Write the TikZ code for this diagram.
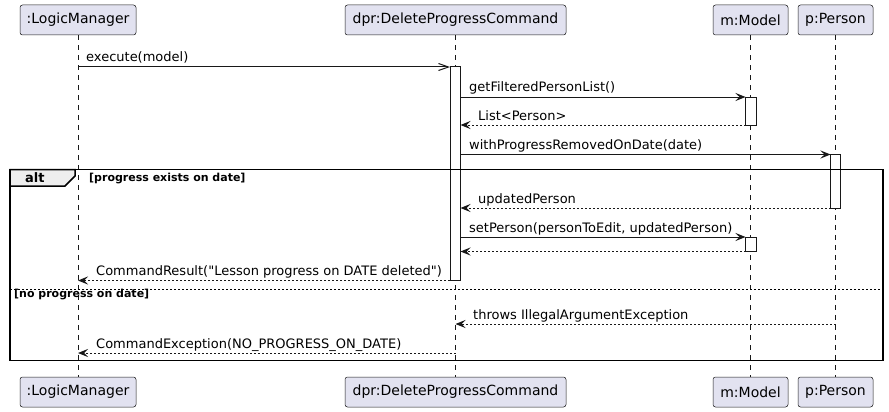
\documentclass[tikz,border=0pt]{standalone}
\usepackage{fontspec}
\setmainfont{DejaVu Sans}[Ligatures=TeXOff]
\usetikzlibrary{arrows.meta}
\definecolor{pbox}{HTML}{E2E2F0}
\definecolor{pline}{HTML}{181818}
\definecolor{tabfill}{HTML}{EEEEEE}
\tikzset{
  part/.style={draw=pline, fill=pbox, rounded corners=2.5pt, line width=0.5pt, minimum height=30pt, inner sep=0pt, font=\fontsize{14}{16}\selectfont},
  life/.style={draw=pline, line width=0.5pt, dash pattern=on 5pt off 5pt},
  act/.style={draw=pline, fill=white, line width=1pt},
  msg/.style={draw=pline, line width=1pt, -{Stealth[length=10pt,width=8pt,inset=4pt]}},
  ret/.style={msg, dash pattern=on 2pt off 2pt},
  async/.style={draw=pline, line width=1pt, -{Straight Barb[length=10pt,width=7pt]}},
  lbl/.style={anchor=base west, inner sep=0pt, font=\fontsize{13}{15}\selectfont},
  guard/.style={anchor=base west, inner sep=0pt, font=\fontsize{11}{13}\selectfont\bfseries},
  frame/.style={draw=black, line width=1.5pt},
}
\begin{document}
\begin{tikzpicture}[x=1pt,y=-1pt]
\useasboundingbox (0,0) rectangle (889,412);
% participants
\node[part, minimum width=116pt] (lm) at (78,20) {:LogicManager};
\node[part, minimum width=221pt] (dpr) at (455.5,20) {dpr:DeleteProgressCommand};
\node[part, minimum width=75pt] (m) at (750.5,20) {m:Model};
\node[part, minimum width=75pt] (p) at (835.5,20) {p:Person};
\node[part, minimum width=116pt] (lmb) at (78,392) {:LogicManager};
\node[part, minimum width=221pt] (dprb) at (455.5,392) {dpr:DeleteProgressCommand};
\node[part, minimum width=75pt] (mb) at (750.5,392) {m:Model};
\node[part, minimum width=75pt] (pb) at (835.5,392) {p:Person};
% lifelines
\draw[life] (lm.south) -- (lmb.north);
\draw[life] (dpr.south) -- (dprb.north);
\draw[life] (m.south) -- (mb.north);
\draw[life] (p.south) -- (pb.north);
% activations
\draw[act] (450,67) rectangle (460.5,280.5);
\draw[act] (745.5,97) rectangle (756,125);
\draw[act] (830.5,154.5) rectangle (840.5,208);
\draw[act] (745.5,237) rectangle (756,251.5);
% alt frame
\draw[frame] (10,169.5) rectangle (883,360.5);
\draw[frame, fill=tabfill] (10,169.5) -- (75,169.5) -- (75,176) -- (65,186) -- (10,186) -- cycle;
\node[anchor=base west, inner sep=0pt, font=\fontsize{13}{15}\selectfont\bfseries] (alt) at (25,182.5) {alt};
\node[guard] (g1) at (89,181.5) {[progress exists on date]};
\draw[draw=black, line width=1pt, dash pattern=on 2pt off 2pt] (10,289.5) -- (883,289.5);
\node[guard] (g2) at (14,297.5) {[no progress on date]};
% named message end points
\coordinate (c1a) at (lm |- 0,67);   \coordinate (c1b) at (450,67);
\coordinate (c2a) at (460.5,97);     \coordinate (c2b) at (745.5,97);
\coordinate (c3a) at (745.5,125);    \coordinate (c3b) at (460.5,125);
\coordinate (c4a) at (460.5,154.5);  \coordinate (c4b) at (830.5,154.5);
\coordinate (c5a) at (830.5,208);    \coordinate (c5b) at (460.5,208);
\coordinate (c6a) at (460.5,237);    \coordinate (c6b) at (745.5,237);
\coordinate (c7a) at (745.5,251.5);  \coordinate (c7b) at (460.5,251.5);
\coordinate (c8a) at (450,280.5);    \coordinate (c8b) at (lm |- 0,280.5);
\coordinate (c9a) at (p |- 0,324);   \coordinate (c9b) at (dpr |- 0,324);
\coordinate (c10a) at (dpr |- 0,353); \coordinate (c10b) at (lm |- 0,353);
% messages
\draw[async] (c1a) -- (c1b);
\node[lbl] at (86,62) {execute(model)};
\draw[msg] (c2a) -- (c2b);
\node[lbl] at (469,92) {getFilteredPersonList()};
\draw[ret] (c3a) -- (c3b);
\node[lbl] at (478,120) {List<Person>};
\draw[msg] (c4a) -- (c4b);
\node[lbl] at (469,149.5) {withProgressRemovedOnDate(date)};
\draw[ret] (c5a) -- (c5b);
\node[lbl] at (478,203) {updatedPerson};
\draw[msg] (c6a) -- (c6b);
\node[lbl] at (469,232) {setPerson(personToEdit, updatedPerson)};
\draw[ret] (c7a) -- (c7b);
\draw[ret] (c8a) -- (c8b);
\node[lbl] at (96,275.5) {CommandResult("Lesson progress on DATE deleted")};
\draw[ret] (c9a) -- (c9b);
\node[lbl] at (473,319) {throws IllegalArgumentException};
\draw[ret] (c10a) -- (c10b);
\node[lbl] at (96,348) {CommandException(NO\_PROGRESS\_ON\_DATE)};
\end{tikzpicture}
\end{document}
